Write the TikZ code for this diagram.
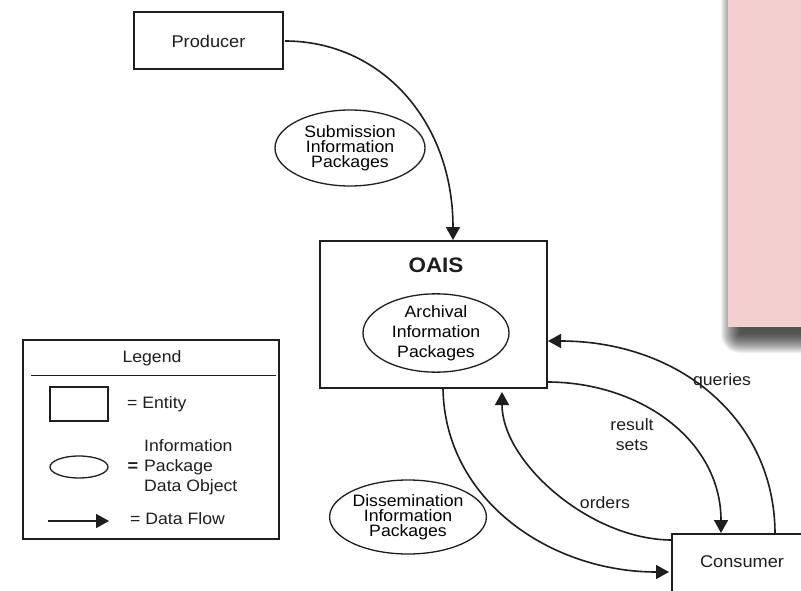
\documentclass[tikz,border=0pt]{standalone}
\usepackage{fontspec}
\setmainfont{Liberation Sans}[FakeStretch=1.07]
\usetikzlibrary{arrows.meta,shapes.geometric}
\definecolor{ink}{HTML}{1E1E1E}
\definecolor{notepink}{RGB}{243,207,207}
\tikzset{
  entity/.style={draw=ink, line width=2.4pt, rectangle, inner sep=0pt},
  package/.style={draw=ink, line width=1.3pt, ellipse, inner sep=0pt, align=center,
    font=\fontsize{16.5}{15}\selectfont},
  flow/.style={draw=ink, line width=1.6pt, -{Triangle[length=13pt,width=14pt]}},
  lbl/.style={text=ink, inner sep=0pt, font=\fontsize{16.5}{20}\selectfont, align=center},
}
\begin{document}
\begin{tikzpicture}[x=1pt,y=-1pt]
\useasboundingbox (0,0) rectangle (801,591);
\fill[white] (0,0) rectangle (801,591);

% pink sticky note with a soft drop shadow built from stacked translucent layers
\begin{scope}
\clip (0,0) rectangle (801,591);
\foreach \r in {0,...,19}{
  \fill[black, opacity=0.05, rounded corners=\r pt]
    (740-\r,-40) rectangle (840+\r,334+\r);
}
\node[fill=notepink, rectangle, inner sep=0pt, minimum width=120pt, minimum height=360pt]
  (note) at (788,147) {};
\end{scope}

% entities
\node[entity, minimum width=149pt, minimum height=57pt] (producer) at (208.5,40.5) {};
\node[lbl, font=\fontsize{17}{20}\selectfont] (producertxt) at (208.5,41) {Producer};

\node[entity, minimum width=227pt, minimum height=147pt] (oais) at (433.5,314.5) {};
\node[lbl, font=\fontsize{21}{24}\bfseries] (oaistitle) at (436,265) {OAIS};

\node[entity, minimum width=150pt, minimum height=80pt] (consumer) at (747,574) {};
\node[lbl, font=\fontsize{17}{20}\selectfont] (consumertxt) at (742,562) {Consumer};

% information packages
\node[package, minimum width=150pt, minimum height=76pt] (sip) at (350,148)
  {Submission\\Information\\Packages};
\node[package, minimum width=146pt, minimum height=78pt,
  font=\fontsize{16.5}{20}\selectfont] (aip) at (436,333)
  {Archival\\Information\\Packages};
\node[package, minimum width=150pt, minimum height=74pt] (dip) at (408,517)
  {Dissemination\\Information\\Packages};

% data flows
\coordinate (pOut) at (285,41);
\coordinate (oIn) at (453,240);
\draw[flow] (pOut) .. controls (380,41) and (453,120) .. (oIn);

\coordinate (oBot) at (443,389);
\coordinate (cInL) at (669,572);
\draw[flow] (oBot) .. controls (445,500) and (550,572) .. (cInL);

\coordinate (cLeft) at (672,540);
\coordinate (oInB) at (502,392);
\draw[flow] (cLeft) .. controls (590,540) and (502,462) .. (oInB);

\coordinate (oRight) at (547,382);
\coordinate (cInT) at (721,533);
\draw[flow] (oRight) .. controls (640,382) and (721,440) .. (cInT);

\coordinate (cTop) at (775,534);
\coordinate (oInR) at (548,341);
\draw[flow] (cTop) .. controls (775,420) and (680,341) .. (oInR);

\node[lbl] (queries) at (722,381) {queries};
\node[lbl] (results) at (632,435) {result\\sets};
\node[lbl] (orders) at (605,503) {orders};

% legend
\node[draw=ink, line width=2pt, rectangle, minimum width=256pt, minimum height=199pt,
  inner sep=0pt] (legend) at (151,439.5) {};
\node[lbl] (legendtitle) at (152,358) {Legend};
\coordinate (ruleL) at (31,375);
\coordinate (ruleR) at (276,375);
\draw[ink, line width=1pt] (ruleL) -- (ruleR);

\node[entity, line width=2pt, minimum width=58pt, minimum height=34pt] (legentity) at (79,404) {};
\node[lbl, anchor=west] (entitytxt) at (127,404) {= Entity};

\node[draw=ink, line width=1.3pt, ellipse, inner sep=0pt, minimum width=58pt,
  minimum height=22pt] (legpackage) at (79,467) {};
\node[lbl, font=\fontsize{17}{20}\bfseries] (eqsign) at (133,467) {=};
\node[lbl, anchor=west, align=left] (packagetxt) at (144,467)
  {Information\\Package\\Data Object};

\coordinate (legflowA) at (48,521);
\coordinate (legflowB) at (109,521);
\draw[flow] (legflowA) -- (legflowB);
\node[lbl, anchor=west] (flowtxt) at (130,519) {= Data Flow};
\end{tikzpicture}
\end{document}
